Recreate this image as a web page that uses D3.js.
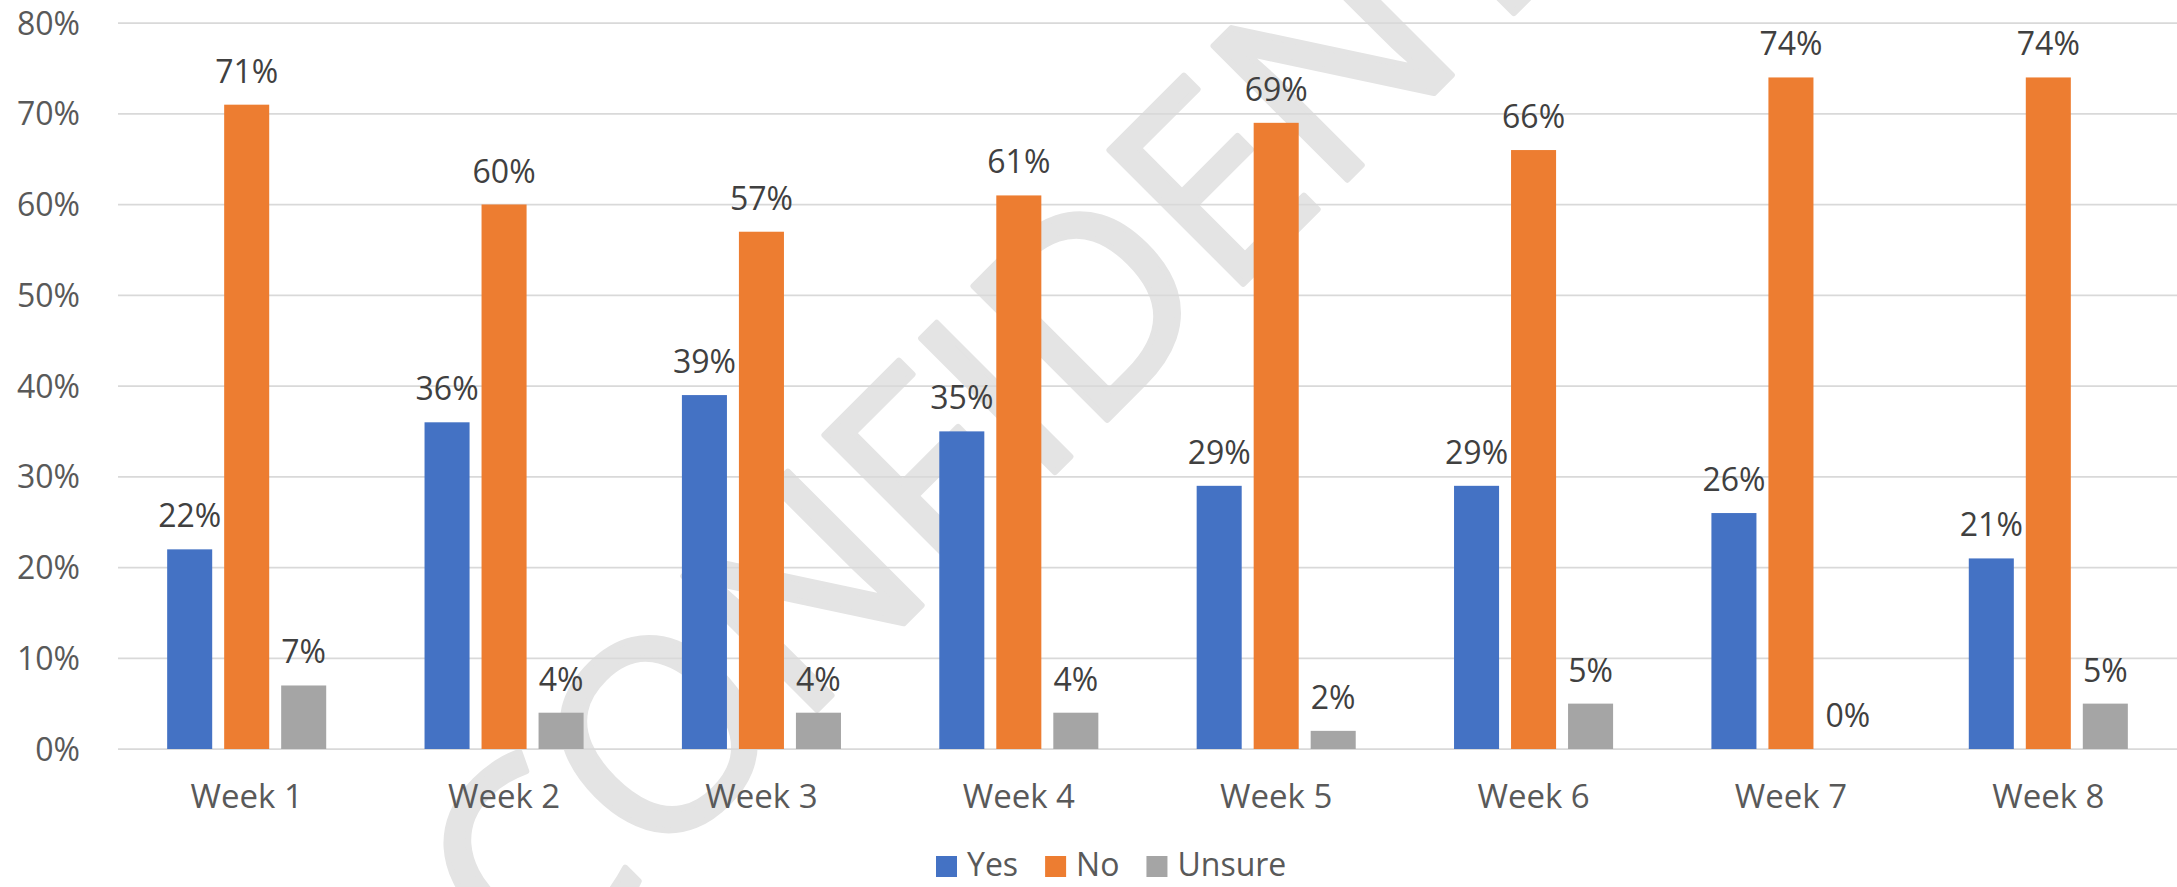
<!DOCTYPE html>
<html>
<head>
<meta charset="utf-8">
<script src="https://cdn.jsdelivr.net/npm/d3@7"></script>
<style>
  body { margin: 0; background: #fff; }
  text { font-family: "Open Sans", sans-serif; }
</style>
</head>
<body>
<script>
var weeks = ["Week 1", "Week 2", "Week 3", "Week 4", "Week 5", "Week 6", "Week 7", "Week 8"];
var seriesNames = ["Yes", "No", "Unsure"];
var yes = [0.22, 0.36, 0.39, 0.35, 0.29, 0.29, 0.26, 0.21];
var no = [0.71, 0.60, 0.57, 0.61, 0.69, 0.66, 0.74, 0.74];
var unsure = [0.07, 0.04, 0.04, 0.04, 0.02, 0.05, 0.00, 0.05];
var yTicks = [0, 0.1, 0.2, 0.3, 0.4, 0.5, 0.6, 0.7, 0.8];
var colors = ["#4472C4", "#ED7D31", "#A5A5A5"];

var W = 2177, H = 887;
var values = [yes, no, unsure];

var svg = d3.select("body").append("svg")
    .attr("width", W)
    .attr("height", H);

// watermark sits behind the chart
svg.append("text")
    .attr("transform", "translate(535,992) rotate(-45)")
    .attr("font-size", 265)
    .attr("fill", "#e4e4e4")
    .attr("stroke", "#e4e4e4")
    .attr("stroke-width", 6)
    .attr("stroke-linejoin", "round")
    .text("CONFIDENTIAL");

var x0 = d3.scaleBand().domain(weeks).range([118, 2177]).paddingInner(0.382).paddingOuter(0.191);
var x1 = d3.scaleBand().domain(seriesNames).range([0, x0.bandwidth()]).paddingInner(0.21);
var y = d3.scaleLinear().domain([0, 0.8]).range([749, 23]);

var pct = d3.format(".0%");

// gridlines
svg.append("g").selectAll("line")
    .data(yTicks)
    .enter()
    .append("line")
    .attr("x1", 118)
    .attr("x2", W)
    .attr("y1", function(d) { return y(d); })
    .attr("y2", function(d) { return y(d); })
    .attr("stroke", "#d9d9d9")
    .attr("stroke-width", 1.75);

// y axis labels
var yAxis = d3.axisLeft(y).tickValues(yTicks).tickFormat(pct).tickSize(0).tickPadding(0);
var yAxisGroup = svg.append("g").attr("transform", "translate(80,0)").call(yAxis);
yAxisGroup.select(".domain").remove();
yAxisGroup.selectAll("text")
    .attr("font-family", "Open Sans")
    .attr("font-size", 32)
    .attr("fill", "#595959")
    .attr("dy", "0.35em");

// x axis labels
var xAxis = d3.axisBottom(x0).tickSize(0).tickPadding(0);
var xAxisGroup = svg.append("g").attr("transform", "translate(0,749)").call(xAxis);
xAxisGroup.select(".domain").remove();
xAxisGroup.selectAll("text")
    .attr("font-family", "Open Sans")
    .attr("font-size", 33)
    .attr("fill", "#595959")
    .attr("dy", 0)
    .attr("y", 59);

// bars
var groups = svg.append("g").selectAll("g")
    .data(weeks)
    .enter()
    .append("g")
    .attr("transform", function(d) { return "translate(" + x0(d) + ",0)"; });

var cells = groups.selectAll("g")
    .data(function(d, i) {
        return seriesNames.map(function(s, j) { return { s: s, j: j, v: values[j][i] }; });
    })
    .enter()
    .append("g");

cells.append("rect")
    .attr("x", function(d) { return x1(d.s); })
    .attr("y", function(d) { return y(d.v); })
    .attr("width", x1.bandwidth())
    .attr("height", function(d) { return y(0) - y(d.v); })
    .attr("fill", function(d) { return colors[d.j]; });

cells.append("text")
    .attr("x", function(d) { return x1(d.s) + x1.bandwidth() / 2; })
    .attr("y", function(d) { return y(d.v) - 22; })
    .attr("text-anchor", "middle")
    .attr("font-size", 32)
    .attr("fill", "#404040")
    .text(function(d) { return pct(d.v); });

// legend
var legend = svg.append("g");
var lx = 936;
seriesNames.forEach(function(s, j) {
    legend.append("rect")
        .attr("x", lx)
        .attr("y", 856)
        .attr("width", 21)
        .attr("height", 21)
        .attr("fill", colors[j]);
    var t = legend.append("text")
        .attr("x", lx + 31)
        .attr("y", 876)
        .attr("font-size", 32)
        .attr("fill", "#595959")
        .text(s);
    lx += 31 + t.node().getComputedTextLength() + 27;
});
</script>
</body>
</html>
